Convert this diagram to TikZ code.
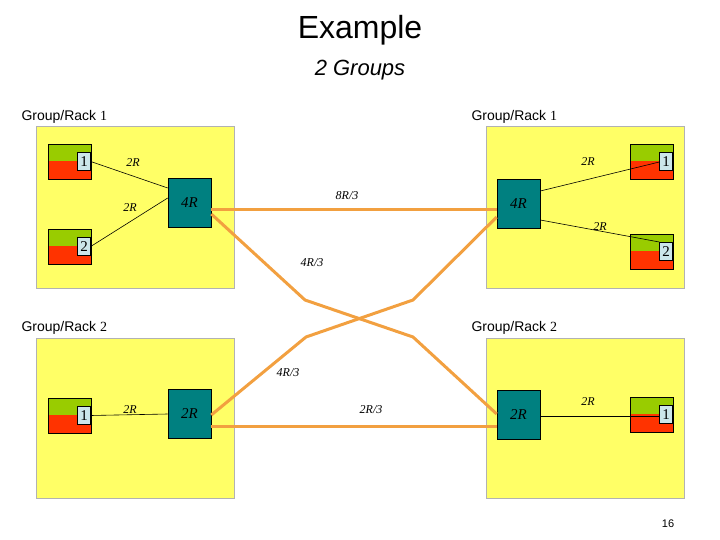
\documentclass[tikz,border=0pt]{standalone}
\usepackage{fontspec}
\setmainfont{Liberation Serif}
\newfontfamily\sansf{Liberation Sans}
\begin{document}
\begin{tikzpicture}[x=1pt,y=-1pt,
 rack/.style={fill=rackyellow,draw=gray!60},
 sw/.style={fill=swteal,draw=black,line width=0.6pt},
 link/.style={draw=linkorange,line width=3pt},
 thin/.style={draw=black,line width=0.6pt},
 lab/.style={font=\itshape\fontsize{12}{12}\selectfont},
 grp/.style={font=\sansf\fontsize{14}{14}\selectfont,anchor=west}]
\definecolor{rackyellow}{RGB}{255,255,102}
\definecolor{swteal}{RGB}{0,128,128}
\definecolor{srvgreen}{RGB}{153,204,0}
\definecolor{srvred}{RGB}{255,51,0}
\definecolor{tagblue}{RGB}{204,230,234}
\definecolor{linkorange}{RGB}{242,160,64}
\useasboundingbox (0,0) rectangle (720,540);
\node[font=\sansf\fontsize{32}{32}\selectfont] (title) at (360,30) {Example};
\node[font=\sansf\itshape\fontsize{22}{22}\selectfont] (sub) at (360,70) {2 Groups};
\node[grp] (g1) at (18,117) {Group/Rack {\rmfamily 1}};
\node[grp] (g2) at (468,117) {Group/Rack {\rmfamily 1}};
\node[grp] (g3) at (18,328) {Group/Rack {\rmfamily 2}};
\node[grp] (g4) at (468,328) {Group/Rack {\rmfamily 2}};
\node[font=\sansf\fontsize{11}{11}\selectfont] (pg) at (668,524) {16};
\draw[rack] (36,126) rectangle (234,288);
\draw[rack] (486,126) rectangle (684,288);
\draw[rack] (36,338) rectangle (234,498);
\draw[rack] (486,338) rectangle (684,498);
% servers
\foreach \n/\x/\y/\t in {s1/48/144/1, s2/48/229/2, s3/630/144/1, s4/630/234/2, s5/48/398/1, s6/630/397/1}{
  \fill[srvgreen] (\x,\y) rectangle ++(43,17);
  \fill[srvred] (\x,\y+17) rectangle ++(43,18);
  \draw[thin] (\x,\y) rectangle ++(43,35);
  \node[draw=black,fill=tagblue,inner sep=0.5pt,minimum width=13pt,minimum height=18pt,font=\fontsize{15}{15}\selectfont] (\n) at (\x+36,\y+17.5) {\t};
}
% switches
\node[sw,minimum width=43pt,minimum height=49pt,lab,font=\itshape\fontsize{15}{15}\selectfont] (w1) at (189.5,202.5) {4R};
\node[sw,minimum width=43pt,minimum height=49pt,font=\itshape\fontsize{15}{15}\selectfont] (w2) at (518.5,203.5) {4R};
\node[sw,minimum width=43pt,minimum height=49pt,font=\itshape\fontsize{15}{15}\selectfont] (w3) at (189.5,414) {2R};
\node[sw,minimum width=43pt,minimum height=49pt,font=\itshape\fontsize{15}{15}\selectfont] (w4) at (518.5,414.5) {2R};
% thin links
\draw[thin] (s1.east) -- (w1.west |- 0,188);
\draw[thin] (s2.east) -- (w1.west |- 0,198);
\draw[thin] (s3.west |- 0,162) -- (w2.east |- 0,191) ;
\draw[thin] (s4.west |- 0,242) -- (w2.east |- 0,220);
\draw[thin] (s5.east) -- (w3.west);
\draw[thin] (s6.west |- 0,416) -- (w4.east |- 0,416);
\node[lab] (l1) at (133,163) {2R};
\node[lab] (l2) at (130,208) {2R};
\node[lab] (l3) at (588,162) {2R};
\node[lab] (l4) at (600,227) {2R};
\node[lab] (l5) at (130,410) {2R};
\node[lab] (l6) at (588,402) {2R};
% orange links
\draw[link] (w1.east |- 0,210) -- (w2.west |- 0,210);
\draw[link] (w3.east |- 0,426) -- (w4.west |- 0,426);
\draw[link,line join=round] (w1.east |- 0,214) -- (305,300) -- (413,337) -- (w4.west |- 0,414);
\draw[link,line join=round] (w2.west |- 0,217) -- (413,300) -- (306,337) -- (w3.east |- 0,415);
\node[lab] (l7) at (347,196) {8R/3};
\node[lab] (l8) at (312,263) {4R/3};
\node[lab] (l9) at (288,373) {4R/3};
\node[lab] (l10) at (371,410) {2R/3};
\end{tikzpicture}
\end{document}
